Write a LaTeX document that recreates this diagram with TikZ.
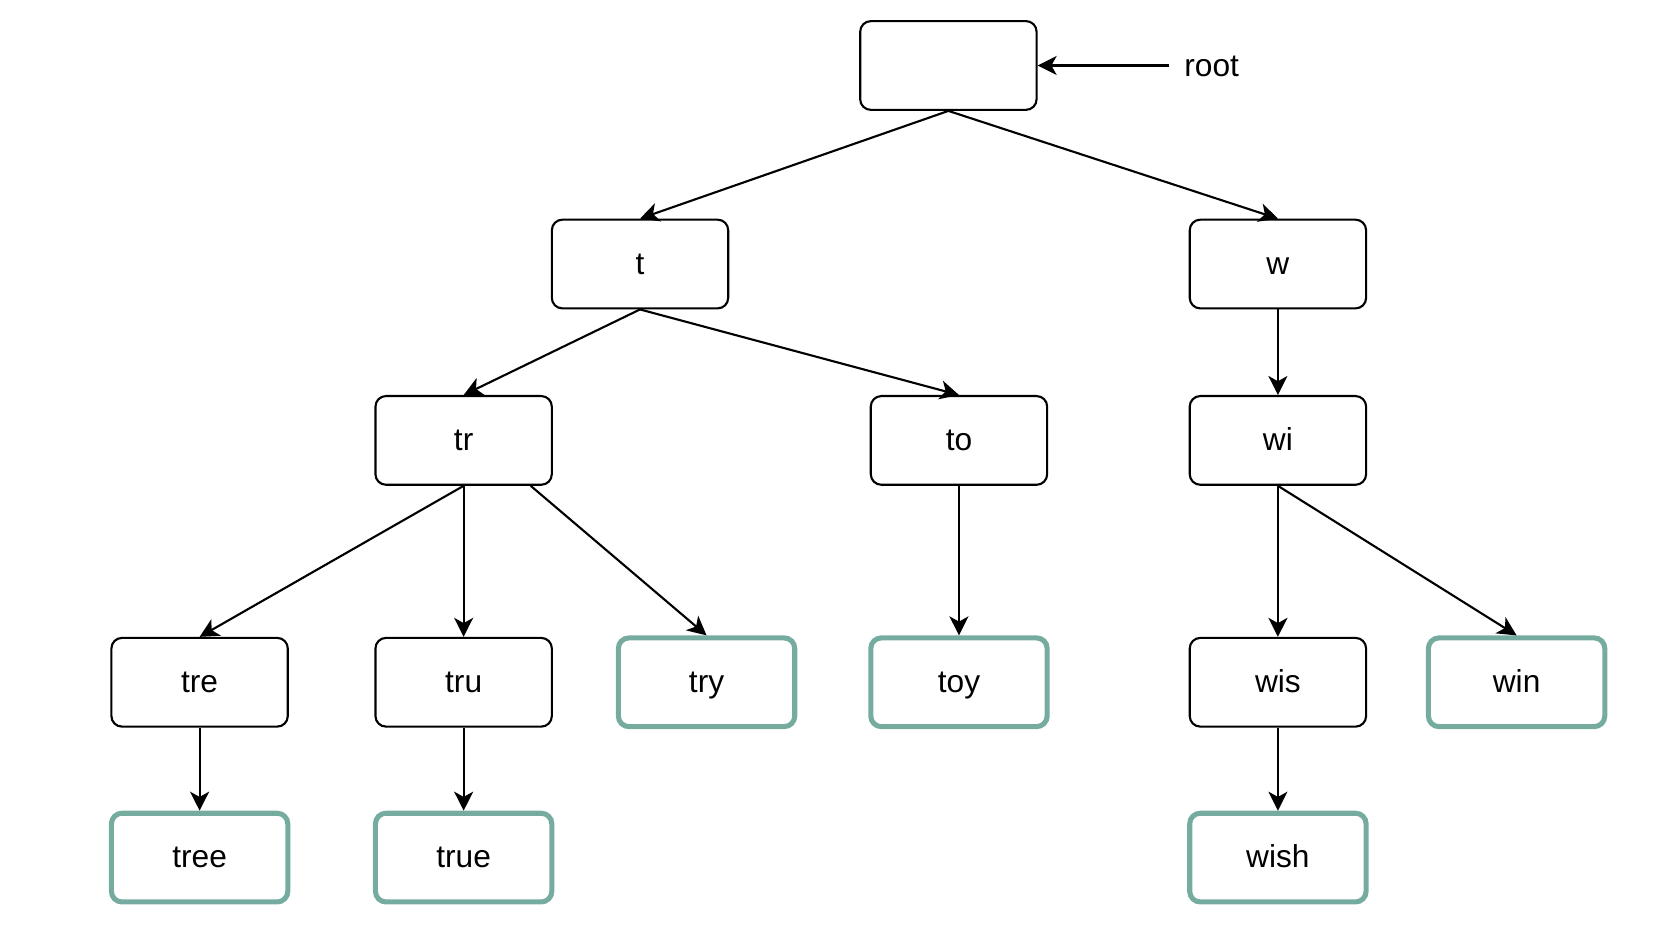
\documentclass[tikz,border=0pt]{standalone}
\usepackage{fontspec}
\setmainfont{Liberation Sans}
\usetikzlibrary{arrows.meta,calc}
\definecolor{leafgreen}{HTML}{76AC9F}
\tikzset{
  txt/.style={text height=1em, text depth=0.04em, font=\fontsize{15pt}{18pt}\selectfont},
  trie/.style={txt, draw=black, line width=1pt, rounded corners=5pt, minimum width=83.5pt, minimum height=42pt, inner sep=0pt},
  leaf/.style={trie, draw=leafgreen, line width=2.4pt},
  link/.style={line width=1pt, -{Stealth[length=9pt,width=9pt,inset=2.5pt]}}
}
\begin{document}
\begin{tikzpicture}[x=0.5pt,y=-0.5pt]
\useasboundingbox (0,0) rectangle (1568,884);
\node[trie] (root) at (898,62) {};
\node[trie] (t) at (606,250) {t};
\node[trie] (w) at (1210,250) {w};
\node[trie] (tr) at (439,417) {tr};
\node[trie] (to) at (908,417) {to};
\node[trie] (wi) at (1210,417) {wi};
\node[trie] (tre) at (189,646) {tre};
\node[trie] (tru) at (439,646) {tru};
\node[leaf] (try) at (669,646) {try};
\node[leaf] (toy) at (908,646) {toy};
\node[trie] (wis) at (1210,646) {wis};
\node[leaf] (win) at (1436,646) {win};
\node[leaf] (tree) at (189,812) {tree};
\node[leaf] (true) at (439,812) {true};
\node[leaf] (wish) at (1210,812) {wish};
\node[txt, anchor=west, inner sep=0pt] (rootlabel) at (1121,63) {root};
\coordinate (rootarrow) at (1107,62);
\draw[link] (rootarrow) -- (root.east);
\draw[link] (root.south) -- (t.north);
\draw[link] (root.south) -- (w.north);
\draw[link] (t.south) -- (tr.north);
\draw[link] (t.south) -- (to.north);
\draw[link] (w.south) -- (wi.north);
\draw[link] (tr.south) -- (tre.north);
\draw[link] (tr.south) -- (tru.north);
\draw[link] ($(tr.south east)+(-21,0)$) -- (try.north);
\draw[link] (to.south) -- (toy.north);
\draw[link] (wi.south) -- (wis.north);
\draw[link] (wi.south) -- (win.north);
\draw[link] (tre.south) -- (tree.north);
\draw[link] (tru.south) -- (true.north);
\draw[link] (wis.south) -- (wish.north);
\end{tikzpicture}
\end{document}
